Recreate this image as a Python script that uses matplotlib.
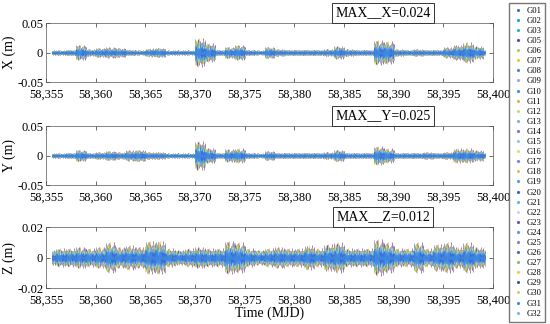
import numpy as np
import matplotlib
matplotlib.use('Agg')
import matplotlib.pyplot as plt
from matplotlib.lines import Line2D
from matplotlib.ticker import FuncFormatter

plt.rcParams['font.family'] = ['Liberation Serif', 'DejaVu Serif']

# ==========================================
# Data
# ==========================================
SATS = ['G01', 'G02', 'G03', 'G05', 'G06', 'G07', 'G08', 'G09', 'G10', 'G11',
        'G12', 'G13', 'G14', 'G15', 'G16', 'G17', 'G18', 'G19', 'G20', 'G21',
        'G22', 'G23', 'G24', 'G25', 'G26', 'G27', 'G28', 'G29', 'G30', 'G31', 'G32']

DAYS = np.arange(58355, 58400)          # day start (MJD)
T_START, T_END = 58355.6, 58399.2       # span of the residual series

# daily envelope of the residuals (m)
ENV_X = [0.004, 0.004, 0.005, 0.013, 0.006, 0.008, 0.009, 0.008, 0.005, 0.004,
         0.007, 0.008, 0.004, 0.004, 0.004, 0.024, 0.016, 0.005, 0.010, 0.013,
         0.005, 0.004, 0.010, 0.006, 0.005, 0.005, 0.005, 0.005, 0.006, 0.011,
         0.006, 0.005, 0.005, 0.021, 0.019, 0.006, 0.005, 0.006, 0.005, 0.005,
         0.009, 0.013, 0.017, 0.011, 0.005]
ENV_Y = [0.004, 0.004, 0.005, 0.010, 0.005, 0.006, 0.008, 0.006, 0.009, 0.010,
         0.006, 0.006, 0.004, 0.004, 0.004, 0.025, 0.013, 0.005, 0.011, 0.012,
         0.005, 0.004, 0.008, 0.005, 0.005, 0.005, 0.005, 0.005, 0.006, 0.010,
         0.005, 0.005, 0.005, 0.016, 0.012, 0.005, 0.005, 0.005, 0.006, 0.005,
         0.006, 0.012, 0.012, 0.009, 0.005]
ENV_Z = [0.005, 0.006, 0.006, 0.007, 0.006, 0.007, 0.010, 0.007, 0.008, 0.007,
         0.011, 0.011, 0.006, 0.005, 0.006, 0.007, 0.006, 0.006, 0.011, 0.010,
         0.006, 0.005, 0.006, 0.007, 0.006, 0.006, 0.008, 0.006, 0.009, 0.010,
         0.006, 0.006, 0.006, 0.012, 0.010, 0.006, 0.006, 0.010, 0.006, 0.009,
         0.010, 0.007, 0.010, 0.007, 0.006]

# relative size of each satellite's residual within the envelope
SAT_FRAC = [0.45, 0.50, 0.70, 0.90, 0.75, 1.00, 0.40, 0.70, 0.50, 0.85,
            0.60, 0.60, 0.95, 0.55, 0.80, 0.65, 0.90, 0.45, 0.55, 0.65,
            0.60, 1.00, 0.50, 0.85, 0.40, 0.80, 0.90, 0.95, 0.70, 0.35, 0.55]
# spread of the residuals over the epochs of a day (up / down)
UP_PATTERN = [1.00, 0.30, 0.55, 0.20, 0.80, 0.35, 0.25, 0.65, 0.15, 0.45, 0.30, 0.70]
DOWN_PATTERN = [0.40, 0.85, 0.20, 0.60, 0.30, 1.00, 0.45, 0.25, 0.70, 0.20, 0.55, 0.35]

# MATLAB-like palette, one colour per satellite
PALETTE = ['#3a6fd8', '#2a9fd6', '#1fb8b0', '#5b46c8', '#a8d068', '#e8c83a',
           '#4585e0', '#b0a0d8', '#3d8fe8', '#d6b84a', '#c8d890', '#6fb8d0',
           '#8a70d0', '#9ac8e0', '#e0e070', '#7088e0', '#d8c060', '#4aa0e8',
           '#3f5fd0', '#60c0c0', '#c8d8f0', '#7050c0', '#5c9ad8', '#8a7ad0',
           '#4068d8', '#80c070', '#e8d050', '#4a48b8', '#d8c888', '#3c8ee0', '#80b8e0']

MAX_TEXT = ['MAX__X=0.024', 'MAX__Y=0.025', 'MAX__Z=0.012']
YLABELS = ['X (m)', 'Y (m)', 'Z (m)']
YLIMS = [0.05, 0.05, 0.02]
BAND = [0.002, 0.002, 0.004]

# larger residuals drawn underneath, blue core on top
DRAW_ORDER = sorted(range(len(SATS)), key=lambda i: -SAT_FRAC[i])

# ==========================================
# Plot
# ==========================================
fig = plt.figure(figsize=(5.5, 3.24), dpi=100)
positions = [[0.0836, 0.7469, 0.8127, 0.182],
             [0.0836, 0.4290, 0.8127, 0.182],
             [0.0836, 0.1111, 0.8127, 0.188]]

n_ep = len(UP_PATTERN)
comma = FuncFormatter(lambda v, p: f'{int(v):,}')

for p, env in enumerate([ENV_X, ENV_Y, ENV_Z]):
    ax = fig.add_axes(positions[p])
    ax.fill_between([T_START, T_END], -BAND[p], BAND[p], color='#b0f2f2', lw=0, zorder=1)
    for s in DRAW_ORDER:
        t_list, lo, hi = [], [], []
        for d, day in enumerate(DAYS):
            for k in range(n_ep):
                t = day + (k + s / len(SATS)) / n_ep
                if T_START <= t <= T_END:
                    t_list.append(t)
                    hi.append(env[d] * SAT_FRAC[s] * UP_PATTERN[(k * 5 + s * 7) % n_ep])
                    lo.append(-env[d] * SAT_FRAC[s] * DOWN_PATTERN[(k * 7 + s * 5) % n_ep])
        ax.vlines(t_list, lo, hi, color=PALETTE[s], lw=0.5, zorder=2)
    ax.set_xlim(58355, 58400)
    ax.set_ylim(-YLIMS[p], YLIMS[p])
    ax.set_xticks(np.arange(58355, 58401, 5))
    ax.xaxis.set_major_formatter(comma)
    ax.set_yticks([-YLIMS[p], 0, YLIMS[p]])
    ax.set_yticklabels([f'-{YLIMS[p]:.2f}', '0', f'{YLIMS[p]:.2f}'])
    ax.tick_params(direction='in', top=True, right=True, labelsize=9,
                   length=3, width=0.5, color='#333333', pad=2)
    ax.tick_params(axis='x', pad=4.5)
    for sp in ax.spines.values():
        sp.set_linewidth(0.5)
        sp.set_color('#555555')
    ax.set_ylabel(YLABELS[p], fontsize=10, labelpad=1)
    ax.text(0.754, 1.17, MAX_TEXT[p], transform=ax.transAxes, ha='center', va='center',
            fontsize=10, zorder=5,
            bbox=dict(boxstyle='square,pad=0.25', fc='white', ec='#333333', lw=0.7))
    if p == 2:
        ax.set_xlabel('Time (MJD)', fontsize=10, labelpad=0)

handles = [Line2D([], [], ls='none', marker='.', ms=2.5, color=PALETTE[i]) for i in range(len(SATS))]
fig.legend(handles, SATS, loc='upper left', bbox_to_anchor=(0.925, 0.991),
           fontsize=6.2, frameon=True, fancybox=False, edgecolor='#555555',
           handlelength=1.2, handletextpad=0.4, labelspacing=0.24,
           borderpad=0.45, borderaxespad=0)

fig.savefig('out.png', dpi=100)
